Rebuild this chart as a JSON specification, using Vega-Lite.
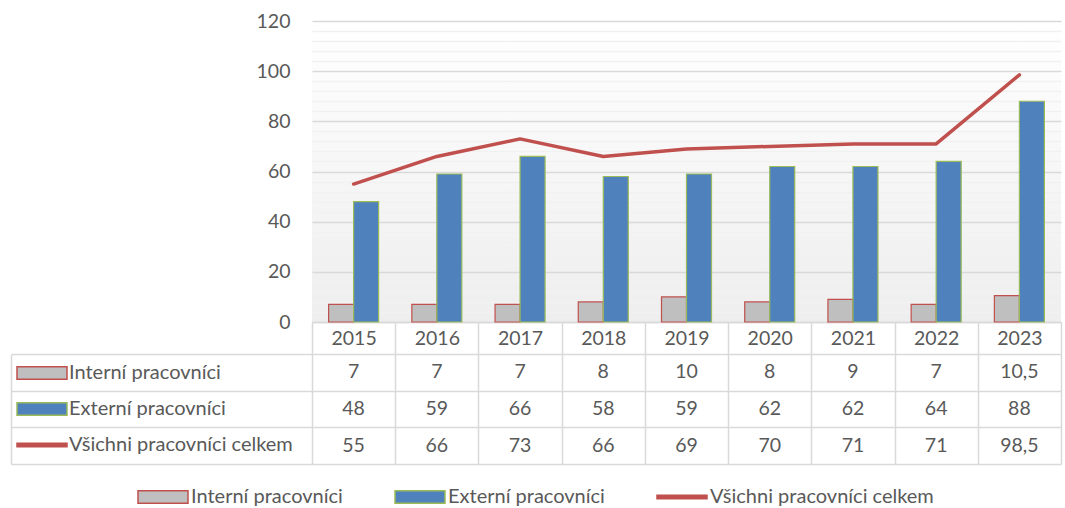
{
  "$schema": "https://vega.github.io/schema/vega-lite/v6.json",
  "padding": {"left": 10, "top": 11, "right": 5, "bottom": 0},
  "background": "white",
  "config": {
    "font": "Lato",
    "locale": {"number": {"decimal": ",", "thousands": " ", "grouping": [3], "currency": ["", ""]}},
    "view": {"stroke": null},
    "axis": {"labelFont": "Lato", "labelFontSize": 19.5, "labelColor": "#595959", "title": null},
    "legend": {"labelFont": "Lato", "labelFontSize": 20, "labelColor": "#595959", "title": null, "labelLimit": 0}
  },
  "data": {"values": [
    {"year": "2015", "series": "Interní pracovníci", "value": 7},
    {"year": "2016", "series": "Interní pracovníci", "value": 7},
    {"year": "2017", "series": "Interní pracovníci", "value": 7},
    {"year": "2018", "series": "Interní pracovníci", "value": 8},
    {"year": "2019", "series": "Interní pracovníci", "value": 10},
    {"year": "2020", "series": "Interní pracovníci", "value": 8},
    {"year": "2021", "series": "Interní pracovníci", "value": 9},
    {"year": "2022", "series": "Interní pracovníci", "value": 7},
    {"year": "2023", "series": "Interní pracovníci", "value": 10.5},
    {"year": "2015", "series": "Externí pracovníci", "value": 48},
    {"year": "2016", "series": "Externí pracovníci", "value": 59},
    {"year": "2017", "series": "Externí pracovníci", "value": 66},
    {"year": "2018", "series": "Externí pracovníci", "value": 58},
    {"year": "2019", "series": "Externí pracovníci", "value": 59},
    {"year": "2020", "series": "Externí pracovníci", "value": 62},
    {"year": "2021", "series": "Externí pracovníci", "value": 62},
    {"year": "2022", "series": "Externí pracovníci", "value": 64},
    {"year": "2023", "series": "Externí pracovníci", "value": 88},
    {"year": "2015", "series": "Všichni pracovníci celkem", "value": 55},
    {"year": "2016", "series": "Všichni pracovníci celkem", "value": 66},
    {"year": "2017", "series": "Všichni pracovníci celkem", "value": 73},
    {"year": "2018", "series": "Všichni pracovníci celkem", "value": 66},
    {"year": "2019", "series": "Všichni pracovníci celkem", "value": 69},
    {"year": "2020", "series": "Všichni pracovníci celkem", "value": 70},
    {"year": "2021", "series": "Všichni pracovníci celkem", "value": 71},
    {"year": "2022", "series": "Všichni pracovníci celkem", "value": 71},
    {"year": "2023", "series": "Všichni pracovníci celkem", "value": 98.5}
  ]},
  "bounds": "flush",
  "spacing": 32,
  "resolve": {
    "scale": {"x": "independent", "y": "independent", "fill": "independent", "stroke": "independent", "color": "independent"},
    "legend": {"fill": "independent", "color": "independent"}
  },
  "vconcat": [
    {
      "width": 749,
      "height": 301,
      "view": {"fill": {"gradient": "linear", "x1": 0, "y1": 0, "x2": 0, "y2": 1, "stops": [{"offset": 0, "color": "#ffffff"}, {"offset": 1, "color": "#eeeeee"}]}, "stroke": null},
      "resolve": {"axis": {"y": "independent"}},
      "layer": [
        {
          "transform": [{"filter": "datum.series !== 'Všichni pracovníci celkem'"}],
          "mark": {"type": "bar", "strokeWidth": 1.2},
          "encoding": {
            "x": {"field": "year", "type": "ordinal", "scale": {"paddingInner": 0, "paddingOuter": 0},
              "axis": {"orient": "bottom", "labelAngle": 0, "tickBand": "extent", "tickSize": 32, "tickColor": "#d9d9d9", "tickWidth": 1.5, "domainColor": "#d9d9d9", "domainWidth": 1.5, "labelPadding": -16, "labelBaseline": "middle", "grid": false}},
            "xOffset": {"field": "series", "scale": {"domain": ["Interní pracovníci", "Externí pracovníci"], "paddingInner": 0, "paddingOuter": 0.664}},
            "y": {"field": "value", "type": "quantitative", "scale": {"domain": [0, 120], "nice": false},
              "axis": {"values": [0, 20, 40, 60, 80, 100, 120], "grid": true, "gridColor": "#d9d9d9", "gridWidth": 1.3, "domain": false, "ticks": false, "labelPadding": 22}},
            "fill": {"field": "series", "type": "nominal",
              "scale": {"domain": ["Interní pracovníci", "Externí pracovníci", "Všichni pracovníci celkem"], "range": ["#bfbfbf", "#4f81bd", "#c0504d"]},
              "legend": {"orient": "none", "direction": "horizontal", "legendX": -175, "legendY": 450, "symbolSize": 2500, "labelOffset": 2, "columnPadding": 49, "padding": 0,
                "encode": {"symbols": {"update": {
                  "shape": {"signal": "datum.value === 'Všichni pracovníci celkem' ? 'M-1,-0.07H1V0.07H-1Z' : 'M-1,-0.25H1V0.25H-1Z'"},
                  "stroke": {"signal": "datum.value === 'Externí pracovníci' ? '#9bbb59' : '#c0504d'"},
                  "strokeWidth": {"value": 1.5},
                  "opacity": {"value": 1}
                }}}}},
            "stroke": {"field": "series", "type": "nominal",
              "scale": {"domain": ["Interní pracovníci", "Externí pracovníci", "Všichni pracovníci celkem"], "range": ["#c0504d", "#9bbb59", "#c0504d"]},
              "legend": null}
          }
        },
        {
          "transform": [{"filter": "datum.series === 'Všichni pracovníci celkem'"}],
          "mark": {"type": "line", "strokeWidth": 3.5, "strokeJoin": "round", "strokeCap": "round"},
          "encoding": {
            "x": {"field": "year", "type": "ordinal"},
            "y": {"field": "value", "type": "quantitative",
              "axis": {"orient": "right", "values": [4, 8, 12, 16, 24, 28, 32, 36, 44, 48, 52, 56, 64, 68, 72, 76, 84, 88, 92, 96, 104, 108, 112, 116], "grid": true, "gridColor": "#f1f1f1", "gridWidth": 1.3, "labels": false, "ticks": false, "domain": false}},
            "stroke": {"field": "series", "type": "nominal", "legend": null}
          }
        }
      ]
    },
    {
      "width": 749,
      "height": 110,
      "encoding": {
        "x": {"field": "year", "type": "ordinal", "scale": {"paddingInner": 0, "paddingOuter": 0},
          "axis": {"labels": false, "ticks": false, "domain": false, "grid": true, "tickBand": "extent", "gridColor": "#d9d9d9", "gridWidth": 1.5}},
        "y": {"field": "series", "type": "nominal", "sort": ["Interní pracovníci", "Externí pracovníci", "Všichni pracovníci celkem"],
          "scale": {"paddingInner": 0, "paddingOuter": 0},
          "axis": {"labels": false, "tickBand": "extent", "grid": true, "gridColor": "#d9d9d9", "gridWidth": 1.5, "tickSize": -301, "offset": 301, "tickColor": "#d9d9d9", "tickWidth": 1.5, "domainColor": "#d9d9d9", "domainWidth": 1.5}}
      },
      "layer": [
        {
          "mark": {"type": "rect", "opacity": 0},
          "encoding": {
            "fill": {"field": "series", "type": "nominal",
              "scale": {"domain": ["Interní pracovníci", "Externí pracovníci", "Všichni pracovníci celkem"], "range": ["#bfbfbf", "#4f81bd", "#c0504d"]},
              "legend": {"orient": "none", "direction": "vertical", "legendX": -296, "legendY": -7, "symbolSize": 2500, "labelOffset": 1, "rowPadding": -15.5, "padding": 0,
                "encode": {"symbols": {"update": {
                  "shape": {"signal": "datum.value === 'Všichni pracovníci celkem' ? 'M-1,-0.07H1V0.07H-1Z' : 'M-1,-0.25H1V0.25H-1Z'"},
                  "stroke": {"signal": "datum.value === 'Externí pracovníci' ? '#9bbb59' : '#c0504d'"},
                  "strokeWidth": {"value": 1.5},
                  "opacity": {"value": 1}
                }}}}}
          }
        },
        {
          "mark": {"type": "text", "fontSize": 19.5, "font": "Lato", "color": "#595959"},
          "encoding": {
            "text": {"field": "value", "type": "quantitative", "format": ".4~g"}
          }
        }
      ]
    }
  ]
}
